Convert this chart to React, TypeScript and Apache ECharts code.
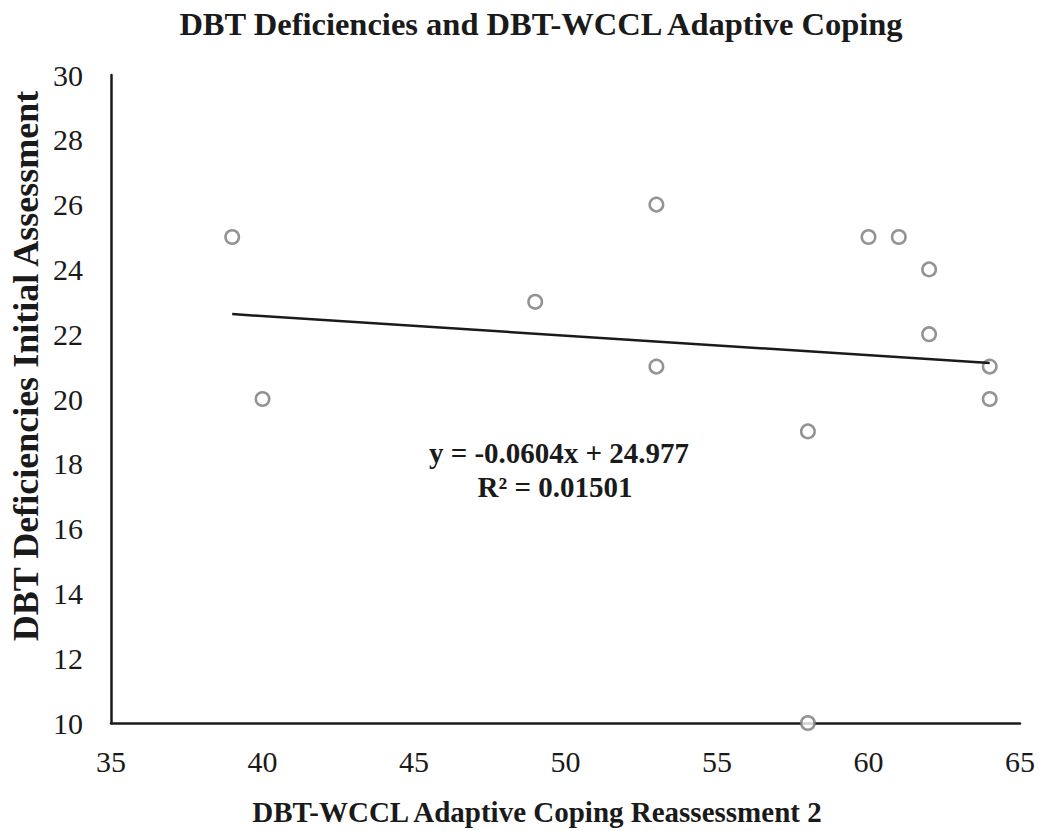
import React, { useEffect, useRef } from "react";
import * as echarts from "echarts";

const xValues = [39, 40, 49, 53, 53, 58, 58, 60, 61, 62, 62, 64, 64];
const yValues = [25, 20, 23, 26, 21, 19, 10, 25, 25, 24, 22, 21, 20];
const trendX = [39, 64];
const trendY = [22.62, 21.11];
const titleText = "DBT Deficiencies and DBT-WCCL Adaptive Coping";
const xName = "DBT-WCCL Adaptive Coping Reassessment 2";
const yName = "DBT Deficiencies Initial Assessment";
const eqLine1 = "y = -0.0604x + 24.977";
const eqLine2 = "R² = 0.01501";

const FONT = "'Liberation Serif', 'Times New Roman', serif";
const INK = "#1a1a1a";

export default function App() {
  const ref = useRef<HTMLDivElement>(null);
  useEffect(() => {
    if (!ref.current) return;
    const chart = echarts.init(ref.current, undefined, { renderer: "svg" });
    const label = (text: string, x: number, y: number, size: number, rot = 0) => ({
      type: "text",
      x,
      y,
      rotation: rot,
      style: {
        text,
        x: 0,
        y: 0,
        align: "center",
        verticalAlign: "middle",
        font: `bold ${size}px ${FONT}`,
        fill: INK,
      },
    });
    chart.setOption({
      animation: false,
      backgroundColor: "#ffffff",
      grid: { left: 111, right: 21, top: 75, bottom: 108 },
      xAxis: {
        type: "value",
        min: 35,
        max: 65,
        interval: 5,
        axisLine: { show: true, onZero: false, lineStyle: { color: INK, width: 2.5 } },
        axisTick: { show: false },
        splitLine: { show: false },
        axisLabel: { fontFamily: FONT, fontSize: 30, color: INK, margin: 23 },
      },
      yAxis: {
        type: "value",
        min: 10,
        max: 30,
        interval: 2,
        axisLine: { show: true, onZero: false, lineStyle: { color: INK, width: 2.5 } },
        axisTick: { show: false },
        splitLine: { show: false },
        axisLabel: { fontFamily: FONT, fontSize: 30, color: INK, margin: 28 },
      },
      series: [
        {
          type: "scatter",
          data: xValues.map((x, i) => [x, yValues[i]]),
          symbol: "circle",
          symbolSize: 13.5,
          itemStyle: { color: "#ffffff", borderColor: "#787878", borderWidth: 2.5 },
          z: 2,
        },
        {
          type: "line",
          data: trendX.map((x, i) => [x, trendY[i]]),
          symbol: "none",
          lineStyle: { color: INK, width: 2.5 },
          z: 3,
        },
      ],
      graphic: [
        label(titleText, 541, 24, 32.5),
        label(xName, 537, 812, 29),
        label(yName, 26, 366, 36, Math.PI / 2),
        label(eqLine1, 559, 453, 29),
        label(eqLine2, 555, 487, 29),
      ],
    });
    return () => chart.dispose();
  }, []);
  return (
    <div
      ref={ref}
      style={{ position: "absolute", left: 0, top: 0, width: 1041, height: 831 }}
    />
  );
}
